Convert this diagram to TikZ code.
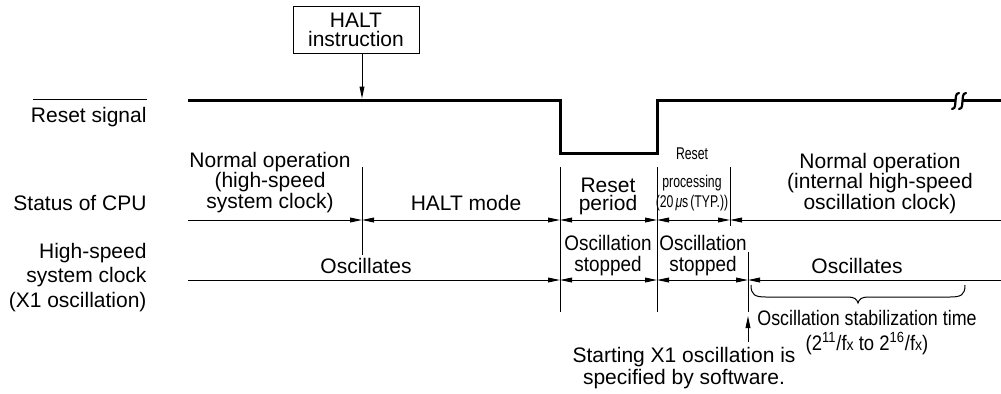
\documentclass[tikz,border=0pt]{standalone}
\usepackage{fontspec}
\setmainfont{Liberation Sans}
\usetikzlibrary{arrows.meta}
\newcommand{\estrecho}[2]{\scalebox{#1}[1]{#2}}
\tikzset{
  punta/.tip={Triangle[length=6pt,width=2.4pt]},
  texto/.style={font=\fontsize{10.5}{10.25}\selectfont, inner sep=0pt, anchor=base, align=center},
  rotulo/.style={texto, anchor=base east, align=right},
  cota/.style={punta-punta},
  cotafin/.style={-punta},
  cotaini/.style={punta-},
  flecha/.style={-punta},
  senal/.style={line width=1.5pt},
  corte/.style={line width=1.1pt, line cap=round}
}
\begin{document}
\begin{tikzpicture}[x=0.5pt, y=-0.5pt, line width=0.5pt]
        \useasboundingbox (0,0) rectangle (1001,393);

        % Rotulos de las senales
        \node[rotulo] (rs) at (147,122) {Reset signal};
        \draw ([xshift=1.5pt, yshift=3.3pt]rs.north west) -- ([yshift=3.3pt]rs.north east);
        \node[rotulo] (cpu) at (147,210) {Status of CPU};
        \node[rotulo, font=\fontsize{10.5}{12.25}\selectfont] (clk) at (147,307) {High-speed\\system clock\\(X1 oscillation)};

        % Instruccion HALT
        \node[texto, draw, anchor=center, minimum width=63pt, minimum height=23.5pt,
              font=\fontsize{10.5}{9.5}\selectfont] (halt) at (356,29.5) {HALT\\instruction};
        \coordinate (hit) at (362,98.5);
        \draw[flecha] (halt.south -| hit) -- (hit);

        % Senal de reset
        \draw[senal] (188,100) -- (560,100) -- (560,153) -- (657,153) -- (657,100) -- (955,100);
        \draw[senal] (962,100) -- (1001,100);
        \draw[corte] (959,93) .. controls (955,93) and (956,99) .. (955.5,101) .. controls (955,103) and (956,109) .. (952,109);
        \draw[corte] (966,93) .. controls (962,93) and (963,99) .. (962.5,101) .. controls (962,103) and (963,109) .. (959,109);

        % Divisiones verticales
        \draw (362,167) -- (362,255);
        \draw (560,167) -- (560,312);
        \draw (657,167) -- (657,312);
        \draw (730,167) -- (730,226);
        \draw (748,252) -- (748,312);

        % Estado de la CPU
        \coordinate (c0) at (188,220);
        \coordinate (c1) at (362,220);
        \coordinate (c2) at (560,220);
        \coordinate (c3) at (657,220);
        \coordinate (c4) at (730,220);
        \coordinate (c5) at (1001,220);
        \draw[cotafin] (c0) -- (c1);
        \draw[cota] (c1) -- (c2);
        \draw[cota] (c2) -- (c3);
        \draw[cota] (c3) -- (c4);
        \draw[cotaini] (c4) -- (c5);

        % Reloj del sistema
        \coordinate (o0) at (188,280);
        \coordinate (o1) at (560,280);
        \coordinate (o2) at (657,280);
        \coordinate (o3) at (748,280);
        \coordinate (o4) at (1001,280);
        \draw[cotafin] (o0) -- (o1);
        \draw[cota] (o1) -- (o2);
        \draw[cota] (o2) -- (o3);
        \draw[cotaini] (o3) -- (o4);

        % Textos de los intervalos
        \node[texto] (nor1) at (270,208) {Normal operation\\(high-speed\\system clock)};
        \node[texto] (haltm) at (466,210) {HALT mode};
        \node[texto, font=\fontsize{10.5}{9}\selectfont] (rper) at (608,210) {Reset\\period};
        \node[texto, font=\fontsize{8.5}{10}\selectfont] (rproc) at (692,207)
             {\estrecho{0.72}{Reset}\\[4pt]\estrecho{0.72}{processing}\\\estrecho{0.72}{(20\,\textit{μ}s\,(TYP.))}};
        \node[texto] (nor2) at (880,209) {Normal operation\\(internal high-speed\\oscillation clock)};
        \node[texto, font=\fontsize{10.5}{10.5}\selectfont] (stop1) at (608,271) {\estrecho{0.9}{Oscillation}\\\estrecho{0.9}{stopped}};
        \node[texto, font=\fontsize{10.5}{10.5}\selectfont] (stop2) at (703,271) {\estrecho{0.9}{Oscillation}\\\estrecho{0.9}{stopped}};
        \node[texto] (osc1) at (366,273) {Oscillates};
        \node[texto] (osc2) at (857,273) {Oscillates};

        % Tiempo de estabilizacion
        \draw (751,285) .. controls (751,295) and (755,297) .. (766,297) -- (848,297)
              .. controls (854,297) and (857,299) .. (858,303) .. controls (859,299) and (862,297) .. (868,297)
              -- (950,297) .. controls (961,297) and (965,295) .. (965,285);
        \node[texto] (estab) at (867,325) {\estrecho{0.85}{Oscillation stabilization time}};
        \node[texto] (rango) at (867,350) {\estrecho{0.88}{(2\textsuperscript{11}/f{\footnotesize x} to 2\textsuperscript{16}/f{\footnotesize x})}};

        % Inicio de la oscilacion X1
        \coordinate (inicio) at (748,342);
        \coordinate (marca) at (748,316);
        \draw[flecha] (inicio) -- (marca);
        \node[texto, font=\fontsize{10.5}{11}\selectfont] (soft) at (684,384) {Starting X1 oscillation is\\specified by software.};
    \end{tikzpicture}
\end{document}
